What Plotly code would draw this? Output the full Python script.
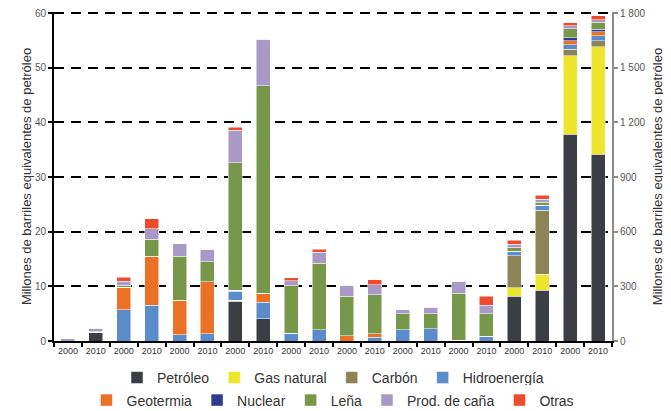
import plotly.graph_objects as go

# Años de cada barra (10 pares 2000/2010)
anios = ["2000", "2010"] * 10
categorias = [f"g{i // 2 + 1}-{a}" for i, a in enumerate(anios)]

# Primeras 16 barras: eje izquierdo (millones de barriles)
petroleo_izq = [0, 1.5, 0, 0, 0, 0, 7.3, 4.1, 0, 0, 0, 0, 0, 0, 0, 0]
gas_izq = [0, 0, 0, 0, 0, 0, 0.15, 0, 0, 0, 0, 0, 0, 0, 0, 0]
carbon_izq = [0] * 16
hidro_izq = [0, 0.1, 5.75, 6.5, 1.15, 1.35, 1.65, 2.95, 1.45, 2.1, 0, 0.7, 2.1, 2.25, 0.15, 0.9]
geo_izq = [0, 0, 4.05, 9.0, 6.3, 9.45, 0.2, 1.65, 0, 0, 1.0, 0.65, 0, 0, 0, 0]
nuclear_izq = [0] * 16
lena_izq = [0, 0.15, 0.4, 3.1, 8.05, 3.7, 23.35, 38.0, 8.65, 12.1, 7.2, 7.1, 2.9, 2.75, 8.55, 4.1]
cana_izq = [0.4, 0.6, 0.75, 1.9, 2.3, 2.3, 5.9, 8.5, 0.95, 2.0, 2.0, 1.85, 0.75, 1.2, 2.25, 1.55]
otras_izq = [0, 0, 0.75, 1.85, 0, 0, 0.6, 0, 0.55, 0.6, 0, 0.95, 0, 0, 0, 1.65]

# Últimas 4 barras: eje derecho
petroleo_der = [246, 279, 1135, 1026]
gas_der = [46, 88, 430, 590]
carbon_der = [176, 352, 37, 32]
hidro_der = [26, 26, 24, 27]
geo_der = [0, 0, 22, 22]
nuclear_der = [0, 0, 16, 15]
lena_der = [20, 18, 50, 38]
cana_der = [18, 16, 16, 13]
otras_der = [20, 20, 18, 22]

fuentes = ["Petróleo", "Gas natural", "Carbón", "Hidroenergía",
           "Geotermia", "Nuclear", "Leña", "Prod. de caña", "Otras"]
colores = ["#3b3e42", "#ede62c", "#8b8457", "#5a8bcb",
           "#eb7127", "#2f3b8f", "#77984a", "#a899c6", "#ee4a2d"]
izq = [petroleo_izq, gas_izq, carbon_izq, hidro_izq, geo_izq,
       nuclear_izq, lena_izq, cana_izq, otras_izq]
der = [petroleo_der, gas_der, carbon_der, hidro_der, geo_der,
       nuclear_der, lena_der, cana_der, otras_der]

fig = go.Figure()
for i, (nombre, color) in enumerate(zip(fuentes, colores)):
    leyenda = "legend" if i < 4 else "legend2"
    fig.add_trace(go.Bar(
        x=categorias[:16], y=izq[i], name=nombre, marker_color=color,
        marker_line=dict(width=0.5, color="white"),
        legendgroup=nombre, legend=leyenda, yaxis="y"))
    fig.add_trace(go.Bar(
        x=categorias[16:], y=der[i], name=nombre, marker_color=color,
        marker_line=dict(width=0.5, color="white"),
        legendgroup=nombre, showlegend=False, yaxis="y2"))

fuente = "Arial, Liberation Sans, sans-serif"
titulo = "Millones de barriles equivalentes de petróleo"

# la página añade 8 px de margen al body: figura un poco más pequeña
fig.update_layout(
    width=663, height=403,
    barmode="stack", bargap=0.5,
    plot_bgcolor="white", paper_bgcolor="white",
    margin=dict(l=46, r=59, t=4, b=70),
    font=dict(family=fuente, color="#333333"),
    xaxis=dict(
        type="category", categoryorder="array", categoryarray=categorias,
        tickmode="array", tickvals=categorias, ticktext=anios, tickangle=0,
        tickson="boundaries", ticks="outside", ticklen=4, tickwidth=1.5,
        tickcolor="black", tickfont=dict(size=9, color="#333333"),
        showline=True, linecolor="black", linewidth=2, showgrid=False,
        range=[-0.5, 19.5], automargin=False),
    yaxis=dict(
        range=[0, 60.2], tickvals=[0, 10, 20, 30, 40, 50, 60],
        ticks="outside", ticklen=4, tickwidth=1.5, tickcolor="black",
        showline=True, linecolor="black", linewidth=2,
        showgrid=True, gridcolor="black", gridwidth=2, griddash="10px,7px",
        zeroline=False, tickfont=dict(size=10, color="#555555"), automargin=False,
        ticklabeloverflow="allow",
        title=dict(text=titulo, font=dict(size=13, color="#333333"), standoff=0)),
    yaxis2=dict(
        overlaying="y", side="right", range=[0, 1806],
        tickvals=[0, 300, 600, 900, 1200, 1500, 1800],
        ticktext=["0", "300", "600", "900", "1 200", "1 500", "1 800"],
        ticks="outside", ticklen=4, tickwidth=1.5, tickcolor="#8c8c8c",
        showline=True, linecolor="#8c8c8c", linewidth=2, automargin=False,
        ticklabeloverflow="allow",
        showgrid=False, zeroline=False, tickfont=dict(size=10, color="#555555"),
        title=dict(text=titulo, font=dict(size=13, color="#333333"), standoff=8)),
    legend=dict(orientation="h", x=0.5, xanchor="center", yref="container",
                y=0.082, yanchor="middle",
                font=dict(size=14, color="#333333"), itemwidth=30, traceorder="normal"),
    legend2=dict(orientation="h", x=0.5, xanchor="center", yref="container",
                 y=0.026, yanchor="middle",
                 font=dict(size=14, color="#333333"), itemwidth=30, traceorder="normal"),
)

fig.write_html("out.html")
